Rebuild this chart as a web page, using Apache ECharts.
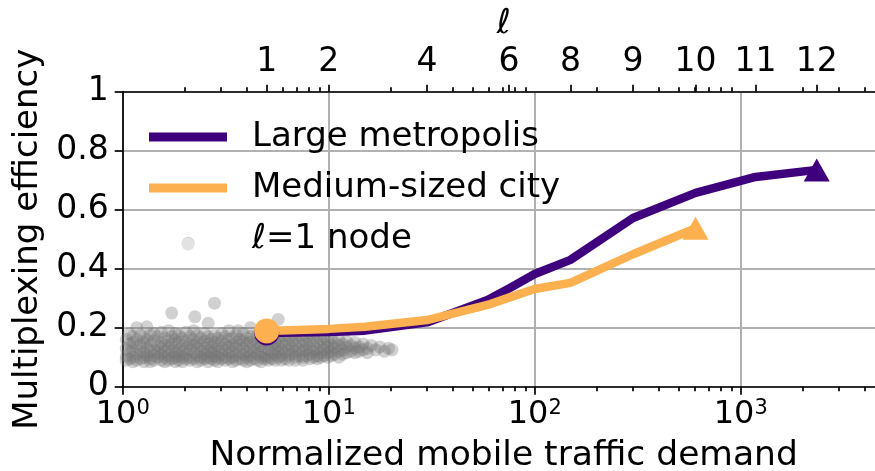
<!DOCTYPE html>
<html>
<head>
<meta charset="utf-8">
<script src="https://cdn.jsdelivr.net/npm/echarts@6/dist/echarts.min.js"></script>
<style>
  html, body { margin: 0; padding: 0; background: #fff; }
  #chart { width: 875px; height: 471px; }
</style>
</head>
<body>
<div id="chart"></div>
<script>
// Aggregation level (ℓ) labels on the top axis and the traffic demand they sit at
const levelLabels = ['1', '2', '4', '6', '8', '9', '10', '11', '12'];
const levelDemand = [5, 10, 30, 75, 149, 300, 604, 1181, 2339];

// Large metropolis: normalized demand vs multiplexing efficiency, ℓ = 1..12
const metroDemand = [5, 10, 15, 30, 59, 75, 100, 149, 300, 604, 1181, 2339];
const metroEff = [0.182, 0.185, 0.19, 0.218, 0.294, 0.333, 0.382, 0.43, 0.572, 0.657, 0.711, 0.735];

// Medium-sized city, ℓ = 1..10
const cityDemand = [5, 10, 15, 30, 59, 75, 100, 149, 300, 604];
const cityEff = [0.189, 0.196, 0.203, 0.226, 0.277, 0.302, 0.331, 0.352, 0.449, 0.537];

// Individual ℓ=1 nodes: [normalized demand, efficiency]
const nodePoints = [
  [1.04,.16],[1.04,.13],[1.04,.105],[1.04,.09],
  [1.08,.18],[1.08,.145],[1.08,.12],[1.08,.095],
  [1.12,.15],[1.12,.125],[1.12,.1],[1.12,.085],[1.12,.17],
  [1.17,.2],[1.17,.16],[1.17,.135],[1.17,.11],[1.17,.09],
  [1.22,.14],[1.22,.12],[1.22,.095],[1.22,.175],
  [1.27,.165],[1.27,.15],[1.27,.115],[1.27,.1],[1.27,.085],
  [1.31,.203],[1.31,.13],[1.31,.105],[1.31,.16],
  [1.36,.175],[1.36,.14],[1.36,.12],[1.36,.095],[1.36,.085],
  [1.42,.155],[1.42,.125],[1.42,.105],[1.42,.09],[1.42,.18],
  [1.48,.17],[1.48,.14],[1.48,.115],[1.48,.1],
  [1.54,.185],[1.54,.15],[1.54,.13],[1.54,.11],[1.54,.09],
  [1.6,.165],[1.6,.14],[1.6,.12],[1.6,.1],[1.6,.085],
  [1.67,.19],[1.67,.155],[1.67,.13],[1.67,.105],[1.67,.09],
  [1.73,.25],[1.73,.17],[1.73,.145],[1.73,.12],[1.73,.095],
  [1.8,.16],[1.8,.135],[1.8,.115],[1.8,.1],[1.8,.085],[1.8,.18],
  [1.87,.175],[1.87,.15],[1.87,.125],[1.87,.105],[1.87,.09],
  [1.95,.165],[1.95,.14],[1.95,.12],[1.95,.1],[1.95,.085],
  [2.03,.185],[2.03,.155],[2.03,.13],[2.03,.11],[2.03,.095],
  [2.08,.486],
  [2.12,.17],[2.12,.145],[2.12,.125],[2.12,.1],[2.12,.09],
  [2.21,.16],[2.21,.14],[2.21,.115],[2.21,.095],[2.21,.19],
  [2.24,.237],
  [2.3,.175],[2.3,.15],[2.3,.13],[2.3,.105],[2.3,.085],
  [2.4,.165],[2.4,.14],[2.4,.12],[2.4,.1],[2.4,.09],
  [2.5,.18],[2.5,.155],[2.5,.13],[2.5,.11],[2.5,.095],
  [2.6,.215],[2.6,.17],[2.6,.145],[2.6,.12],[2.6,.1],[2.6,.085],
  [2.7,.16],[2.7,.135],[2.7,.115],[2.7,.095],
  [2.79,.283],[2.79,.175],[2.79,.15],[2.79,.125],[2.79,.105],[2.79,.09],
  [2.9,.165],[2.9,.14],[2.9,.12],[2.9,.1],[2.9,.085],
  [3.02,.18],[3.02,.155],[3.02,.13],[3.02,.11],[3.02,.095],
  [3.15,.17],[3.15,.145],[3.15,.125],[3.15,.1],[3.15,.09],
  [3.28,.19],[3.28,.16],[3.28,.135],[3.28,.115],[3.28,.095],
  [3.41,.165],[3.41,.14],[3.41,.12],[3.41,.1],[3.41,.085],
  [3.55,.175],[3.55,.15],[3.55,.13],[3.55,.105],[3.55,.09],
  [3.64,.19],
  [3.7,.16],[3.7,.14],[3.7,.115],[3.7,.095],
  [3.85,.18],[3.85,.155],[3.85,.13],[3.85,.11],[3.85,.09],
  [4.0,.165],[4.0,.145],[4.0,.12],[4.0,.1],[4.0,.085],
  [4.17,.2],[4.17,.17],[4.17,.15],[4.17,.125],[4.17,.105],[4.17,.09],
  [4.34,.16],[4.34,.135],[4.34,.115],[4.34,.095],
  [4.52,.175],[4.52,.15],[4.52,.13],[4.52,.11],[4.52,.09],
  [4.7,.165],[4.7,.14],[4.7,.12],[4.7,.1],[4.7,.085],
  [4.9,.18],[4.9,.155],[4.9,.13],[4.9,.105],[4.9,.095],
  [5.1,.17],[5.1,.145],[5.1,.125],[5.1,.1],[5.1,.09],
  [5.3,.16],[5.3,.14],[5.3,.115],[5.3,.095],
  [5.5,.18],[5.5,.15],[5.5,.13],[5.5,.11],[5.5,.09],
  [5.69,.228],[5.69,.165],[5.69,.14],[5.69,.12],[5.69,.1],
  [5.9,.175],[5.9,.15],[5.9,.125],[5.9,.105],[5.9,.09],
  [6.15,.16],[6.15,.14],[6.15,.115],[6.15,.095],
  [6.4,.17],[6.4,.145],[6.4,.125],[6.4,.105],[6.4,.09],
  [6.65,.18],[6.65,.155],[6.65,.13],[6.65,.11],
  [6.9,.165],[6.9,.14],[6.9,.12],[6.9,.1],[6.9,.09],
  [7.2,.175],[7.2,.15],[7.2,.125],[7.2,.105],
  [7.5,.16],[7.5,.14],[7.5,.12],[7.5,.1],[7.5,.09],
  [7.8,.17],[7.8,.145],[7.8,.125],[7.8,.105],
  [8.1,.18],[8.1,.155],[8.1,.13],[8.1,.11],[8.1,.095],
  [8.45,.165],[8.45,.14],[8.45,.12],[8.45,.1],
  [8.8,.175],[8.8,.15],[8.8,.125],[8.8,.105],[8.8,.095],
  [9.15,.16],[9.15,.135],[9.15,.115],[9.15,.1],
  [9.5,.17],[9.5,.145],[9.5,.125],[9.5,.105],
  [9.9,.155],[9.9,.135],[9.9,.115],[9.9,.1],
  [10.3,.165],[10.3,.14],[10.3,.12],[10.3,.105],
  [10.7,.15],[10.7,.13],[10.7,.11],
  [11.2,.16],[11.2,.14],[11.2,.12],[11.2,.1],
  [11.7,.145],[11.7,.125],[11.7,.11],
  [12.2,.155],[12.2,.135],[12.2,.115],
  [12.8,.14],[12.8,.12],
  [13.4,.15],[13.4,.13],[13.4,.115],
  [14,.135],[14,.12],
  [14.7,.145],[14.7,.125],
  [15.4,.13],[15.4,.115],
  [16.1,.14],[16.9,.125],[17.7,.135],[18.6,.12],[19.5,.13],[20.3,.125]
];

const X_MIN = 1, X_MAX = 5000;
const FONT = "'DejaVu Sans', 'Noto Sans', sans-serif";
const PURPLE = '#3f007d';
const ORANGE = '#fdb04f';
const GRID_GRAY = '#b0b0b0';
const lg = Math.log10;
const LOG_MAX = lg(X_MAX);

// minor log ticks (2..9 x 10^k) inside the axis range, in log10 units
function minorTicks(skip) {
  const out = [];
  for (let k = 0; k < 4; k++) {
    for (let m = 2; m <= 9; m++) {
      const v = m * Math.pow(10, k);
      if (v < X_MAX && !(skip || []).includes(v)) out.push(lg(v));
    }
  }
  return out;
}

// line data with a circle at the first level and a triangle at the last one
function lineData(xs, ys) {
  return xs.map((x, i) => {
    const item = { value: [x, ys[i]], symbol: 'none' };
    if (i === 0) { item.symbol = 'circle'; item.symbolSize = 25; }
    if (i === xs.length - 1) { item.symbol = 'triangle'; item.symbolSize = [26, 23]; }
    return item;
  });
}

const blackLine = { color: '#000', width: 1.7 };
const levelLog = levelDemand.map(lg);

const option = {
  animation: false,
  backgroundColor: '#fff',
  grid: { left: 122.7, top: 91.7, width: 762, height: 295, containLabel: false, outerBoundsMode: 'none' },
  legend: {
    orient: 'vertical', left: 149, top: 117, padding: 0, itemGap: 11,
    itemWidth: 78, itemHeight: 13, symbolKeepAspect: true,
    selectedMode: false,
    textStyle: {
      fontSize: 34, fontFamily: FONT, color: '#000', lineHeight: 40, padding: [0, 0, 0, 20],
      rich: { i: { fontStyle: 'italic', fontSize: 34, fontFamily: FONT, color: '#000' } }
    },
    formatter: name => name === 'ℓ=1 node' ? '{i|ℓ}=1 node' : name,
    data: [
      { name: 'Large metropolis', icon: 'path://M0 0H78V9H0Z', itemStyle: { color: PURPLE, borderWidth: 0 } },
      { name: 'Medium-sized city', icon: 'path://M0 0H78V9H0Z', itemStyle: { color: ORANGE, borderWidth: 0 } },
      { name: 'ℓ=1 node', icon: 'circle', itemStyle: { color: '#e2e2e2', opacity: 1, borderWidth: 0 },
        textStyle: { padding: [0, 0, 10, 20] } }
    ]
  },
  xAxis: [
    {
      type: 'log', logBase: 10, min: X_MIN, max: X_MAX, position: 'bottom',
      axisLine: { show: true, lineStyle: blackLine },
      axisTick: { show: true, length: 8, lineStyle: blackLine },
      axisLabel: {
        margin: 11,
        formatter: v => {
          const e = Math.round(lg(v));
          return Math.abs(lg(v) - e) < 1e-6 ? '{b|10}{s|' + e + '}' : '';
        },
        rich: {
          b: { fontSize: 32, fontFamily: FONT, color: '#000', lineHeight: 34 },
          s: { fontSize: 21, fontFamily: FONT, color: '#000', verticalAlign: 'top', lineHeight: 22 }
        }
      },
      splitLine: { show: true, lineStyle: { color: GRID_GRAY, width: 2 } },
      name: 'Normalized mobile traffic demand', nameLocation: 'middle', nameGap: 52,
      nameTextStyle: { fontSize: 34.5, fontFamily: FONT, color: '#000' }
    },
    {
      type: 'value', min: 0, max: LOG_MAX, position: 'bottom',
      axisLine: { show: false },
      axisTick: { show: true, customValues: minorTicks(), length: 4.5, lineStyle: blackLine },
      axisLabel: { show: false }, splitLine: { show: false }
    },
    {
      type: 'value', min: 0, max: LOG_MAX, position: 'top',
      axisLine: { show: true, lineStyle: blackLine },
      axisTick: { show: true, customValues: levelLog, length: 7, lineStyle: blackLine },
      axisLabel: {
        show: true, customValues: levelLog, margin: 13,
        fontSize: 33, fontFamily: FONT, color: '#000',
        formatter: v => {
          const i = levelLog.findIndex(p => Math.abs(p - v) < 1e-6);
          return i >= 0 ? levelLabels[i] : '';
        }
      },
      splitLine: { show: false },
      name: 'ℓ', nameLocation: 'middle', nameGap: 48,
      nameTextStyle: { fontSize: 34, fontFamily: FONT, fontStyle: 'italic', color: '#000' }
    },
    {
      type: 'value', min: 0, max: LOG_MAX, position: 'top',
      axisLine: { show: false },
      axisTick: { show: true, customValues: minorTicks(levelDemand), length: 4.5, lineStyle: blackLine },
      axisLabel: { show: false }, splitLine: { show: false }
    }
  ],
  yAxis: {
    type: 'value', min: 0, max: 1, interval: 0.2,
    axisLine: { show: true, lineStyle: blackLine },
    axisTick: { show: true, length: 8, lineStyle: blackLine },
    axisLabel: { fontSize: 33, fontFamily: FONT, color: '#000', margin: 14 },
    splitLine: { show: true, lineStyle: { color: GRID_GRAY, width: 2 } },
    name: 'Multiplexing efficiency', nameLocation: 'middle', nameRotate: 90, nameGap: 76,
    nameTextStyle: { fontSize: 34, fontFamily: FONT, color: '#000' }
  },
  series: [
    {
      type: 'scatter', name: 'ℓ=1 node', xAxisIndex: 0, data: nodePoints,
      symbol: 'circle', symbolSize: 13, silent: true,
      itemStyle: { color: '#727272', opacity: 0.33, borderWidth: 0 }
    },
    {
      type: 'line', name: 'Large metropolis', xAxisIndex: 0, data: lineData(metroDemand, metroEff),
      symbol: 'none', silent: true,
      lineStyle: { color: PURPLE, width: 8.5, join: 'round' },
      itemStyle: { color: PURPLE, opacity: 1, borderWidth: 0 }
    },
    {
      type: 'line', name: 'Medium-sized city', xAxisIndex: 0, data: lineData(cityDemand, cityEff),
      symbol: 'none', silent: true,
      lineStyle: { color: ORANGE, width: 8.5, join: 'round' },
      itemStyle: { color: ORANGE, opacity: 1, borderWidth: 0 }
    }
  ]
};

const chart = echarts.init(document.getElementById('chart'), null, { renderer: 'canvas' });
chart.setOption(option);
</script>
</body>
</html>
